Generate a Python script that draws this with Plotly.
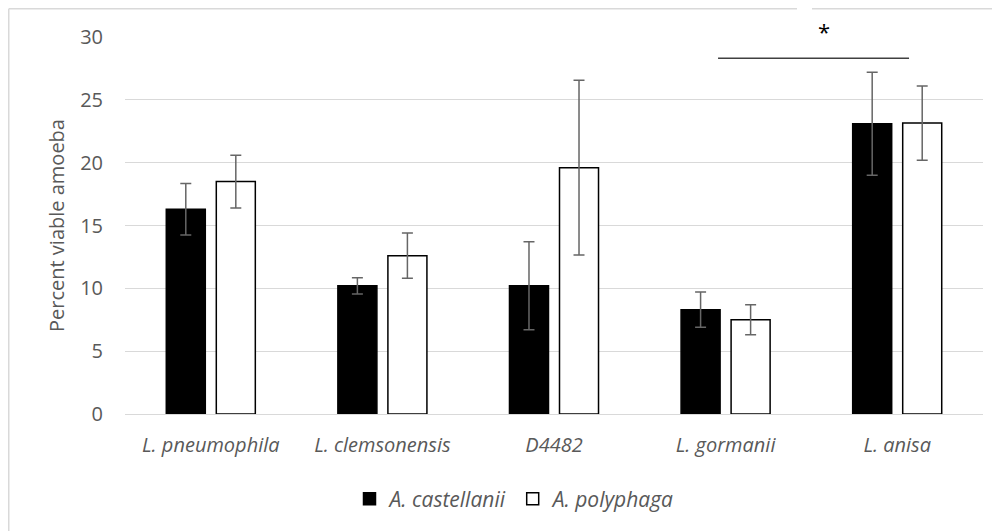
import plotly.graph_objects as go

categories = ["L. pneumophila", "L. clemsonensis", "D4482", "L. gormanii", "L. anisa"]
series_names = ["A. castellanii", "A. polyphaga"]
castellanii = [16.3, 10.2, 10.2, 8.3, 23.1]
castellanii_err = [2.05, 0.65, 3.5, 1.4, 4.1]
polyphaga = [18.5, 12.6, 19.6, 7.5, 23.15]
polyphaga_err = [2.1, 1.8, 6.95, 1.2, 2.95]
y_ticks = [0, 5, 10, 15, 20, 25, 30]

# significance bracket (category positions, value)
sig_x0, sig_x1, sig_y = 2.956, 4.069, 28.3
star_x, star_y = 3.573, 30

FONT = "Open Sans"
GRAY = "#595959"

# layout geometry (figure pixels)
W, H = 1000, 531
ML, MR, MT, MB = 117, 25, 29, 125
PW, PH = W - ML - MR, H - MT - MB


def px_x(px):
    return (px - ML) / PW


def px_y(py):
    return (H - MB - py) / PH


fig = go.Figure()
fig.add_trace(go.Bar(
    x=categories, y=castellanii, name=series_names[0],
    marker=dict(color="black", line=dict(color="black", width=1.5)),
    error_y=dict(type="data", array=castellanii_err, color="#666666", thickness=1.5, width=5.5),
))
fig.add_trace(go.Bar(
    x=categories, y=polyphaga, name=series_names[1],
    marker=dict(color="white", line=dict(color="black", width=1.5)),
    error_y=dict(type="data", array=polyphaga_err, color="#666666", thickness=1.5, width=5.5),
))

fig.update_layout(
    width=W, height=H,
    paper_bgcolor="white", plot_bgcolor="white",
    margin=dict(l=ML, r=MR, t=MT, b=MB, autoexpand=False),
    barmode="group", bargap=0.417, bargroupgap=0.22,
    font=dict(family=FONT, color=GRAY, size=20),
    showlegend=True,
    legend=dict(
        orientation="h", x=px_x(507), xanchor="center", y=px_y(491), yanchor="middle",
        font=dict(family=FONT, size=21, color=GRAY, style="italic"),
        traceorder="normal", itemwidth=30, bgcolor="rgba(0,0,0,0)",
    ),
    xaxis=dict(
        showgrid=False, showline=False, zeroline=False,
        tickfont=dict(family=FONT, size=20, color=GRAY, style="italic"),
        ticks="", ticklabelstandoff=17,
    ),
    yaxis=dict(
        range=[0, 30], tickvals=y_ticks, showgrid=True, gridcolor="#d9d9d9", gridwidth=1,
        zeroline=True, zerolinecolor="#d9d9d9", zerolinewidth=1, showline=False,
        tickfont=dict(family=FONT, size=20, color=GRAY), ticks="", ticklabelstandoff=21,
        title=dict(text="Percent viable amoeba", font=dict(family=FONT, size=20, color=GRAY), standoff=10),
    ),
)

# chart border (left and top visible)
fig.add_shape(type="line", xref="paper", yref="paper", x0=px_x(0.75), x1=px_x(W), y0=px_y(0.75), y1=px_y(0.75),
              line=dict(color="#d9d9d9", width=1.5), layer="above")
fig.add_shape(type="line", xref="paper", yref="paper", x0=px_x(0.75), x1=px_x(0.75), y0=px_y(0.75), y1=px_y(H),
              line=dict(color="#d9d9d9", width=1.5), layer="above")
# white text-box gap (cuts border and top gridline)
fig.add_shape(type="rect", xref="paper", yref="paper", x0=px_x(789), x1=px_x(804), y0=px_y(31), y1=px_y(-2),
              line=dict(width=0), fillcolor="white", layer="above")
# significance bracket
fig.add_shape(type="line", xref="x", yref="y", x0=sig_x0, x1=sig_x1, y0=sig_y, y1=sig_y,
              line=dict(color="#404040", width=1.5), layer="above")
fig.add_annotation(x=star_x, y=star_y, xref="x", yref="y", text="*", showarrow=False,
                   yanchor="bottom", yshift=-11,
                   font=dict(family=FONT, size=22, color="black"))

fig.write_html("out.html")
